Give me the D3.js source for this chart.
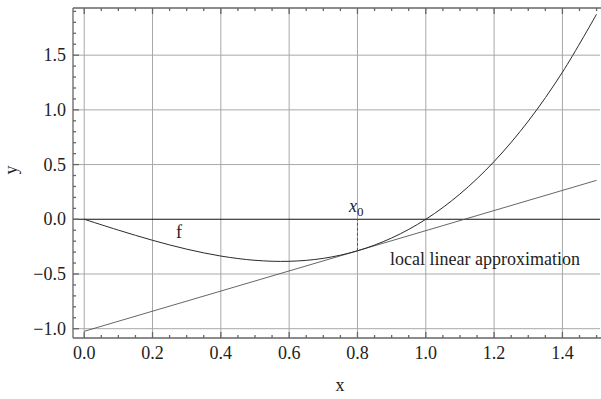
<!DOCTYPE html>
<meta charset="utf-8">
<style>
body { margin: 0; background: #fff; }
text { font-family: "Liberation Serif", "DejaVu Serif", serif; fill: #222; }
</style>
<svg width="601" height="399"></svg>
<script src="https://d3js.org/d3.v7.min.js"></script>
<script>

// values
var fx = [0, 0.1, 0.2, 0.3, 0.4, 0.5, 0.6, 0.7, 0.8, 0.9, 1.0, 1.1, 1.2, 1.3, 1.4, 1.5];
var fy = [0, -0.099, -0.192, -0.273, -0.336, -0.375, -0.384, -0.357, -0.288, -0.171, 0, 0.231, 0.528, 0.897, 1.344, 1.875];
var tanX = [0, 1.5];
var tanY = [-1.024, 0.356];
var x0 = 0.8, fx0 = -0.288;

var xTicks = [0, 0.2, 0.4, 0.6, 0.8, 1.0, 1.2, 1.4];
var yTicks = [-1.0, -0.5, 0.0, 0.5, 1.0, 1.5];
var xMinor = d3.range(0, 31).map(function(i) { return i * 0.05; });
var yMinor = d3.range(-10, 20).map(function(i) { return i * 0.1; });

var svg = d3.select("svg");
var mLeft = 73, mRight = 600, mTop = 8, mBottom = 338;

var x = d3.scaleLinear().domain([-0.0328, 1.510]).range([mLeft, mRight]);
var y = d3.scaleLinear().domain([-1.085, 1.931]).range([mBottom, mTop]);

// grid
svg.append("g").selectAll("line").data(xTicks).enter().append("line")
    .attr("x1", d => x(d)).attr("x2", d => x(d))
    .attr("y1", mTop).attr("y2", mBottom)
    .attr("stroke", "#a8a8a8").attr("stroke-width", 1);
svg.append("g").selectAll("line").data(yTicks.filter(d => d !== 0)).enter().append("line")
    .attr("x1", mLeft).attr("x2", mRight)
    .attr("y1", d => y(d)).attr("y2", d => y(d))
    .attr("stroke", "#a8a8a8").attr("stroke-width", 1);

// y = 0 axis line
svg.append("line")
    .attr("x1", mLeft).attr("x2", mRight)
    .attr("y1", y(0)).attr("y2", y(0))
    .attr("stroke", "#111").attr("stroke-width", 1.1);

// frame
var frame = svg.append("g").attr("stroke", "#666").attr("stroke-width", 1.3);
frame.append("line").attr("x1", mLeft).attr("x2", mLeft).attr("y1", mTop).attr("y2", mBottom);
frame.append("line").attr("x1", mLeft).attr("x2", mRight + 1).attr("y1", mBottom).attr("y2", mBottom);
frame.append("line").attr("x1", mLeft).attr("x2", mRight + 1).attr("y1", mTop).attr("y2", mTop);

function isMajor(v, list) { return list.some(t => Math.abs(t - v) < 1e-6); }

// ticks (inward)
xMinor.forEach(function(v) {
  var len = isMajor(v, xTicks) ? 6 : 3;
  frame.append("line").attr("x1", x(v)).attr("x2", x(v)).attr("y1", mBottom).attr("y2", mBottom - len);
  frame.append("line").attr("x1", x(v)).attr("x2", x(v)).attr("y1", mTop).attr("y2", mTop + len);
});
yMinor.forEach(function(v) {
  if (y(v) > mBottom || y(v) < mTop) return;
  var len = isMajor(v, yTicks) ? 6 : 3;
  frame.append("line").attr("x1", mLeft).attr("x2", mLeft + len).attr("y1", y(v)).attr("y2", y(v));
});

// tick labels
svg.append("g").selectAll("text").data(xTicks).enter().append("text")
    .attr("x", d => x(d)).attr("y", 359)
    .attr("text-anchor", "middle").style("font-size", "18px")
    .text(d => d3.format(".1f")(d));
svg.append("g").selectAll("text").data(yTicks).enter().append("text")
    .attr("x", 66).attr("y", d => y(d)).attr("dy", "0.33em")
    .attr("text-anchor", "end").style("font-size", "18px")
    .text(d => d3.format(".1f")(d).replace("-", "\u2212"));

// axis labels
svg.append("text").attr("x", 340).attr("y", 391)
    .attr("text-anchor", "middle").style("font-size", "18px").text("x");
svg.append("text").attr("transform", "translate(17,170) rotate(-90)")
    .attr("text-anchor", "middle").style("font-size", "18px").text("y");

// tangent line
var pts = tanX.map((d, i) => [d, tanY[i]]);
svg.append("path")
    .attr("d", d3.line().x(d => x(d[0])).y(d => y(d[1]))(pts))
    .attr("fill", "none").attr("stroke", "#555").attr("stroke-width", 0.9);

// f curve
var fpts = fx.map((d, i) => [d, fy[i]]);
svg.append("path")
    .attr("d", d3.line().curve(d3.curveCatmullRom.alpha(0.5)).x(d => x(d[0])).y(d => y(d[1]))(fpts))
    .attr("fill", "none").attr("stroke", "#2a2a2a").attr("stroke-width", 1);

// dashed marker at x0
svg.append("line")
    .attr("x1", x(x0)).attr("x2", x(x0))
    .attr("y1", y(fx0)).attr("y2", y(0))
    .attr("stroke", "#555").attr("stroke-width", 1).attr("stroke-dasharray", "3,2");

// labels
var lx = svg.append("text").attr("x", 349).attr("y", 212).style("font-size", "18px");
lx.append("tspan").style("font-style", "italic").text("x");
lx.append("tspan").attr("dy", 4).style("font-size", "13px").text("0");

svg.append("text").attr("x", 176).attr("y", 238).style("font-size", "18px").text("f");
svg.append("text").attr("x", 390).attr("y", 265).style("font-size", "18px").text("local linear approximation");

</script>
